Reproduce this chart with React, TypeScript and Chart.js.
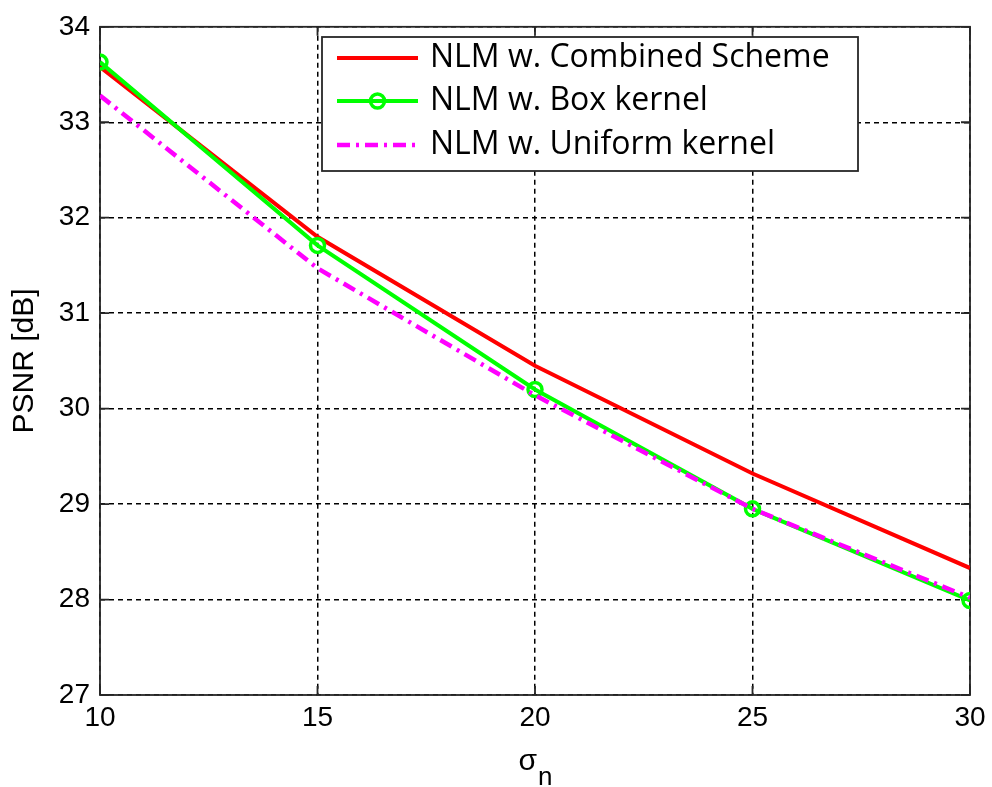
import React, { useEffect, useRef } from 'react';
import { Chart, registerables } from 'chart.js';

Chart.register(...registerables);

const sigmaN = [10, 15, 20, 25, 30];
const combinedScheme = [33.58, 31.8, 30.45, 29.32, 28.33];
const boxKernel = [33.63, 31.71, 30.2, 28.95, 27.99];
const uniformKernel = [33.28, 31.47, 30.14, 28.95, 28.02];
const seriesLabels = ['NLM w. Combined Scheme', 'NLM w. Box kernel', 'NLM w. Uniform kernel'];
const xTickValues = [10, 15, 20, 25, 30];
const yTickValues = [27, 28, 29, 30, 31, 32, 33, 34];
const yTitle = 'PSNR [dB]';
const xTitleMain = 'σ';
const xTitleSub = 'n';

const toPoints = (ys: number[]) => sigmaN.map((x, i) => ({ x, y: ys[i] }));

const framePlugin = {
  id: 'frame',
  beforeDraw(chart: any) {
    const { ctx, width, height } = chart;
    ctx.save();
    ctx.fillStyle = '#ffffff';
    ctx.fillRect(0, 0, width, height);
    ctx.restore();
  },
  beforeDatasetsDraw(chart: any) {
    const { ctx, chartArea } = chart;
    const { left, right, top, bottom } = chartArea;
    const xs = chart.scales.x;
    const ys = chart.scales.y;
    ctx.save();
    ctx.strokeStyle = '#262626';
    ctx.lineWidth = 1.8;
    ctx.setLineDash([]);
    ctx.strokeRect(left, top, right - left, bottom - top);
    const tl = 9;
    ctx.beginPath();
    xTickValues.forEach((v) => {
      const px = xs.getPixelForValue(v);
      ctx.moveTo(px, bottom);
      ctx.lineTo(px, bottom - tl);
      ctx.moveTo(px, top);
      ctx.lineTo(px, top + tl);
    });
    yTickValues.forEach((v) => {
      const py = ys.getPixelForValue(v);
      ctx.moveTo(left, py);
      ctx.lineTo(left + tl, py);
      ctx.moveTo(right, py);
      ctx.lineTo(right - tl, py);
    });
    ctx.stroke();
    ctx.restore();
  },
  afterDraw(chart: any) {
    const { ctx, chartArea } = chart;
    const cx = (chartArea.left + chartArea.right) / 2;
    ctx.save();
    ctx.fillStyle = '#000';
    ctx.textBaseline = 'alphabetic';
    ctx.textAlign = 'left';
    ctx.font = '30px "Liberation Sans", Arial, sans-serif';
    const w1 = ctx.measureText(xTitleMain).width;
    ctx.font = '26px "Liberation Sans", Arial, sans-serif';
    const w2 = ctx.measureText(xTitleSub).width;
    const start = cx - (w1 + w2) / 2;
    ctx.font = '30px "Liberation Sans", Arial, sans-serif';
    ctx.fillText(xTitleMain, start, 770);
    ctx.font = '26px "Liberation Sans", Arial, sans-serif';
    ctx.fillText(xTitleSub, start + w1 + 1, 785);
    ctx.restore();
  },
  afterDatasetsDraw(chart: any) {
    const { ctx } = chart;
    const bx = 322, by = 37, bw = 536, bh = 134;
    ctx.save();
    ctx.fillStyle = '#ffffff';
    ctx.fillRect(bx, by, bw, bh);
    ctx.strokeStyle = '#262626';
    ctx.lineWidth = 1.8;
    ctx.setLineDash([]);
    ctx.strokeRect(bx, by, bw, bh);
    const rowY = [58, 101, 145];
    chart.data.datasets.forEach((ds: any, i: number) => {
      const y = rowY[i];
      ctx.save();
      ctx.strokeStyle = ds.borderColor;
      ctx.lineWidth = ds.borderWidth;
      ctx.setLineDash(ds.borderDash || []);
      ctx.beginPath();
      ctx.moveTo(337, y);
      ctx.lineTo(418, y);
      ctx.stroke();
      ctx.setLineDash([]);
      if (ds.pointRadius > 0) {
        ctx.beginPath();
        ctx.arc(377.5, y, ds.pointRadius, 0, Math.PI * 2);
        ctx.lineWidth = ds.pointBorderWidth;
        ctx.strokeStyle = ds.pointBorderColor;
        ctx.stroke();
      }
      ctx.restore();
      ctx.fillStyle = '#000';
      ctx.font = '32px "Open Sans", sans-serif';
      ctx.textBaseline = 'middle';
      ctx.textAlign = 'left';
      ctx.fillText(ds.label, 430, y);
    });
    ctx.restore();
  },
};

export default function App() {
  const canvasRef = useRef<HTMLCanvasElement | null>(null);

  useEffect(() => {
    document.body.style.margin = '0';
    const canvas = canvasRef.current;
    if (!canvas) return;
    const chart = new Chart(canvas, {
      type: 'line',
      data: {
        datasets: [
          {
            label: seriesLabels[0],
            data: toPoints(combinedScheme),
            borderColor: '#ff0000',
            backgroundColor: '#ff0000',
            borderWidth: 4,
            pointRadius: 0,
            tension: 0,
            order: 2,
          },
          {
            label: seriesLabels[1],
            data: toPoints(boxKernel),
            borderColor: '#00ff00',
            backgroundColor: '#00ff00',
            borderWidth: 4,
            pointRadius: 7,
            pointBorderWidth: 3.5,
            pointBorderColor: '#00ff00',
            pointBackgroundColor: 'rgba(255,255,255,0)',
            tension: 0,
            order: 1,
          },
          {
            label: seriesLabels[2],
            data: toPoints(uniformKernel),
            borderColor: '#ff00ff',
            backgroundColor: '#ff00ff',
            borderWidth: 4.5,
            borderDash: [13, 6, 3, 6],
            pointRadius: 0,
            tension: 0,
            order: 0,
          },
        ],
      } as any,
      options: {
        animation: false,
        responsive: false,
        maintainAspectRatio: false,
        layout: { padding: { left: 0, top: 21, right: 22, bottom: 0 } },
        plugins: {
          legend: { display: false },
          tooltip: { enabled: false },
        },
        scales: {
          x: {
            type: 'linear',
            min: 10,
            max: 30,
            afterFit: (s: any) => { s.height = 92; },
            afterBuildTicks: (s: any) => { s.ticks = xTickValues.map((v) => ({ value: v })); },
            ticks: {
              color: '#000',
              font: { family: '"Liberation Sans", Arial, sans-serif', size: 28 },
              padding: 6,
              maxRotation: 0,
            },
            grid: { color: '#000', lineWidth: 1.5, drawTicks: false },
            border: { display: false, dash: [5, 4] },
            title: { display: false },
          },
          y: {
            type: 'linear',
            min: 27,
            max: 34,
            afterFit: (s: any) => { s.width = 100; },
            afterBuildTicks: (s: any) => { s.ticks = yTickValues.map((v) => ({ value: v })); },
            ticks: {
              color: '#000',
              font: { family: '"Liberation Sans", Arial, sans-serif', size: 28 },
              padding: 10,
            },
            grid: { color: '#000', lineWidth: 1.5, drawTicks: false },
            border: { display: false, dash: [5, 4] },
            title: {
              display: true,
              text: yTitle,
              color: '#000',
              font: { family: '"Liberation Sans", Arial, sans-serif', size: 30 },
              padding: { top: 7, bottom: 0 },
            },
          },
        },
      } as any,
      plugins: [framePlugin],
    });
    return () => chart.destroy();
  }, []);

  return (
    <div style={{ width: 992, height: 787 }}>
      <canvas ref={canvasRef} width={992} height={787} style={{ display: 'block' }} />
    </div>
  );
}
